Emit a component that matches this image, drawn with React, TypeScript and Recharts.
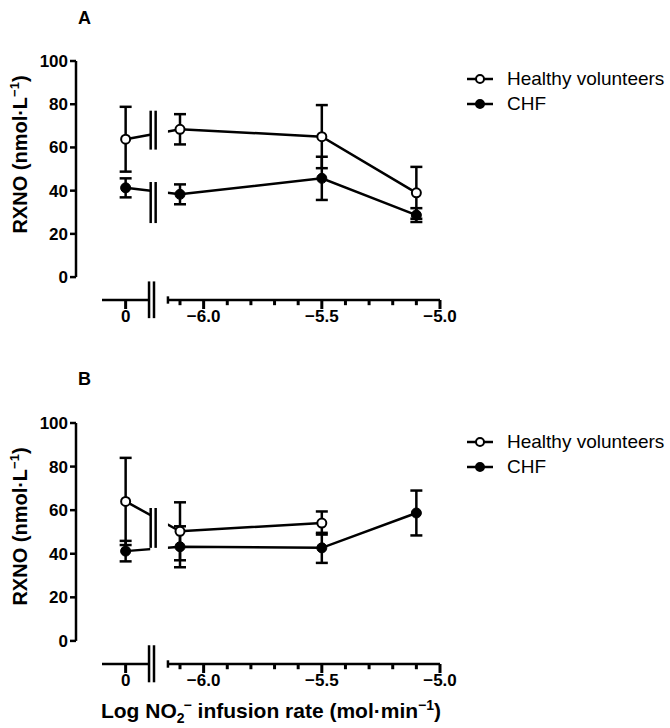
import React from 'react'
import {
  LineChart,
  Line,
  XAxis,
  YAxis,
  ErrorBar,
  ReferenceLine,
  ReferenceArea,
  Legend
} from 'recharts'

// log NO2- infusion rate; 0 = baseline, drawn left of the axis break
const doses = [0, -6.1, -5.5, -5.1]

const healthyA = [63.8, 68.4, 65.0, 39.0]
const healthyAErr = [15, 7, 14.6, 12]
const chfA = [41.3, 38.3, 45.7, 28.7]
const chfAErr = [4.4, 4.6, 10, 3.2]

const healthyB = [64.0, 50.3, 54.1, null]
const healthyBErr = [20, 13.3, 5.3, null]
const chfB = [41.2, 43.2, 42.7, 58.7]
const chfBErr = [4.7, 9.4, 6.9, 10.3]

// bars where the lines run into the axis break, [from, to]
const gapMarksA = [
  [59, 77],
  [25, 44]
]
const gapMarksB = [[42.7, 61]]

const seriesNames = ['Healthy volunteers', 'CHF']
const yTicks = [0, 20, 40, 60, 80, 100]
const majorTicks = [-6.0, -5.5, -5.0]
const majorLabels = ['\u22126.0', '\u22125.5', '\u22125.0']
const minorTicks = [-6.1, -5.9, -5.8, -5.7, -5.6, -5.4, -5.3, -5.2, -5.1]

const X_MIN = -6.54
const X_MAX = -5.0
const BASE_POS = -6.33
const Y_MIN = -10.6
const Y_MAX = 100
const LEFT_SEG = [-6.43, -6.231]
const BREAK_X = [-6.231, -6.21]
const RIGHT_START = -6.151
const MASK = [-6.226, -6.151]
const GAP_BAR_X = [-6.224, -6.203]
const MINOR_LEN = 2.4

const FONT = '"Liberation Sans", Arial, Helvetica, sans-serif'
const INK = '#000'

const toPos = (d: number) => (d === 0 ? BASE_POS : d)

const buildRows = (h, he, c, ce) =>
  doses.map((d, i) => ({
    x: toPos(d),
    healthy: h[i],
    healthyErr: he[i],
    chf: c[i],
    chfErr: ce[i]
  }))

const rowsA = buildRows(healthyA, healthyAErr, chfA, chfAErr)
const rowsB = buildRows(healthyB, healthyBErr, chfB, chfBErr)

const labelTicks = [BASE_POS, ...majorTicks]

const XTick = props => {
  const { x, y, payload } = props
  const v = payload.value
  let label = '0'
  const mi = majorTicks.findIndex(t => Math.abs(t - v) < 1e-6)
  if (mi >= 0) label = majorLabels[mi]
  return (
    <text
      x={x}
      y={y + 13}
      textAnchor="middle"
      fill={INK}
      style={{ fontFamily: FONT, fontSize: 17, fontWeight: 700 }}
    >
      {label}
    </text>
  )
}

const YTitle = ({ viewBox, shift }) => {
  if (!viewBox) return null
  const cx = viewBox.x + 20
  const cy = viewBox.y + viewBox.height / 2 + shift
  return (
    <text
      transform={`rotate(-90 ${cx} ${cy})`}
      x={cx}
      y={cy + 7}
      textAnchor="middle"
      fill={INK}
      style={{ fontFamily: FONT, fontSize: 20, fontWeight: 700 }}
    >
      RXNO (nmol·L
      <tspan dy={-8} fontSize={13}>
        {'\u22121'}
      </tspan>
      <tspan dy={8}>)</tspan>
    </text>
  )
}

const XTitle = ({ viewBox }) => {
  if (!viewBox) return null
  const { x, y, width } = viewBox
  return (
    <text
      x={x + width / 2 + 13}
      y={y + 54}
      textAnchor="middle"
      fill={INK}
      style={{ fontFamily: FONT, fontSize: 21, fontWeight: 700 }}
    >
      Log NO
      <tspan dy={5} fontSize={14}>
        2
      </tspan>
      <tspan dy={-13} dx={-1} fontSize={14}>
        {'\u2212'}
      </tspan>
      <tspan dy={8}> infusion rate (mol·min</tspan>
      <tspan dy={-8} fontSize={14}>
        {'\u22121'}
      </tspan>
      <tspan dy={8}>)</tspan>
    </text>
  )
}

const renderLegend = props => {
  const items = [...(props.payload || [])].sort(
    (a, b) => seriesNames.indexOf(a.value) - seriesNames.indexOf(b.value)
  )
  return (
    <div style={{ fontFamily: FONT, fontSize: 19, color: INK }}>
      {items.map((entry, index) => (
        <div
          key={`leg-${index}`}
          style={{ display: 'flex', alignItems: 'center', height: 25 }}
        >
          <svg width={26} height={12}>
            <line x1={0} x2={26} y1={6} y2={6} stroke={INK} strokeWidth={2.5} />
            <circle
              cx={13}
              cy={6}
              r={4}
              fill={entry.value === seriesNames[0] ? '#fff' : INK}
              stroke={INK}
              strokeWidth={2}
            />
          </svg>
          <span style={{ marginLeft: 14 }}>{entry.value}</span>
        </div>
      ))}
    </div>
  )
}

const Panel = ({ rows, marks, letter, top, height, xHeight, yShift, legendTop, letterTop, showXTitle }) => {
  const stroke = { stroke: INK, strokeWidth: 2.5 }
  const seg = (x1, y1, x2, y2, key, w = 2.5) => (
    <ReferenceLine
      key={key}
      segment={[
        { x: x1, y: y1 },
        { x: x2, y: y2 }
      ]}
      stroke={INK}
      strokeWidth={w}
      ifOverflow="visible"
      zIndex={1100}
    />
  )
  return (
    <div style={{ position: 'absolute', left: 0, top, width: 670, height }}>
      <div
        style={{
          position: 'absolute',
          left: 78,
          top: letterTop,
          fontFamily: FONT,
          fontSize: 18,
          fontWeight: 700,
          color: INK
        }}
      >
        {letter}
      </div>
      <LineChart
        width={670}
        height={height}
        data={rows}
        margin={{ top: 61, right: 230, bottom: 0, left: 0 }}
      >
        <XAxis
          dataKey="x"
          type="number"
          domain={[X_MIN, X_MAX]}
          allowDataOverflow
          ticks={labelTicks}
          interval={0}
          axisLine={false}
          tickLine={{ stroke: INK, strokeWidth: 3 }}
          tickSize={9}
          tickMargin={0}
          tick={XTick}
          height={xHeight}
          label={showXTitle ? props => <XTitle {...props} /> : undefined}
        />
        <YAxis
          type="number"
          domain={[Y_MIN, Y_MAX]}
          allowDataOverflow
          ticks={yTicks}
          interval={0}
          width={76}
          axisLine={false}
          tickSize={6}
          tickMargin={2}
          tickLine={stroke}
          tick={{ fill: INK, fontSize: 17, fontWeight: 700, fontFamily: FONT }}
          label={props => <YTitle {...props} shift={yShift} />}
        />
        <Line
          dataKey="healthy"
          name={seriesNames[0]}
          type="linear"
          stroke={INK}
          strokeWidth={2.5}
          dot={{ r: 4.5, fill: '#fff', stroke: INK, strokeWidth: 2 }}
          isAnimationActive={false}
        >
          <ErrorBar dataKey="healthyErr" width={6} stroke={INK} strokeWidth={2.5} isAnimationActive={false} />
        </Line>
        <Line
          dataKey="chf"
          name={seriesNames[1]}
          type="linear"
          stroke={INK}
          strokeWidth={2.5}
          dot={{ r: 5, fill: INK, stroke: INK, strokeWidth: 1 }}
          isAnimationActive={false}
        >
          <ErrorBar dataKey="chfErr" width={6} stroke={INK} strokeWidth={2.5} isAnimationActive={false} />
        </Line>
        <ReferenceArea
          x1={MASK[0]}
          x2={MASK[1]}
          y1={Y_MIN}
          y2={Y_MAX}
          fill="#fff"
          fillOpacity={1}
          stroke="none"
          ifOverflow="visible"
          zIndex={1000}
        />
        {marks.map((m, i) => GAP_BAR_X.map((gx, j) => seg(gx, m[0], gx, m[1], `gap-${i}-${j}`)))}
        {/* y axis line, stops at 0 */}
        {seg(X_MIN, 0, X_MIN, Y_MAX, 'yaxis')}
        {/* broken x axis */}
        {seg(LEFT_SEG[0], Y_MIN, LEFT_SEG[1], Y_MIN, 'xleft')}
        {seg(RIGHT_START, Y_MIN, X_MAX, Y_MIN, 'xright')}
        {seg(RIGHT_START, Y_MIN + 1.7, RIGHT_START, Y_MIN - 1.7, 'xcap')}
        {BREAK_X.map((bx, i) => seg(bx, -2, bx, -19, `brk-${i}`))}
        {minorTicks.map((t, i) => seg(t, Y_MIN, t, Y_MIN - MINOR_LEN, `min-${i}`, 3))}
        <Legend
          layout="vertical"
          align="center"
          verticalAlign="middle"
          content={renderLegend}
          wrapperStyle={{ left: 467, top: legendTop, width: 'auto', height: 'auto' }}
        />
      </LineChart>
    </div>
  )
}

export default function App() {
  return (
    <div
      style={{
        position: 'absolute',
        left: 0,
        top: 0,
        width: 670,
        height: 728,
        background: '#fff',
        overflow: 'hidden'
      }}
    >
      <Panel
        rows={rowsA}
        marks={gapMarksA}
        letter="A"
        top={0}
        height={340}
        xHeight={40}
        yShift={-26}
        legendTop={66}
        letterTop={8}
        showXTitle={false}
      />
      <Panel
        rows={rowsB}
        marks={gapMarksB}
        letter="B"
        top={362}
        height={366}
        xHeight={64}
        yShift={-17}
        legendTop={67}
        letterTop={7}
        showXTitle
      />
    </div>
  )
}
